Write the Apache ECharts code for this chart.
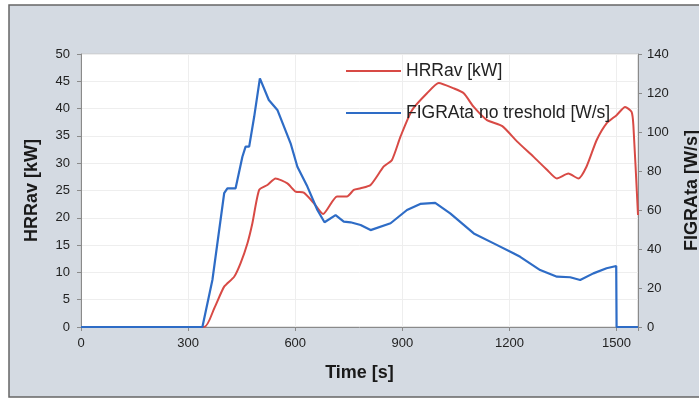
<!DOCTYPE html>
<html>
<head>
<meta charset="utf-8">
<script src="https://cdn.jsdelivr.net/npm/echarts@6/dist/echarts.min.js"></script>
<style>
  html, body { margin: 0; padding: 0; background: #fff; }
  #chart { width: 699px; height: 400px; }
</style>
</head>
<body>
<div id="chart"></div>
<script>
// HRRav [kW], left axis
const hrrTime = [0, 345, 373, 401, 429, 447, 466, 480, 499, 522, 545, 578, 601, 624, 652, 678, 717, 745, 764, 783, 811, 848, 871, 895, 927, 969, 1002, 1044, 1072, 1100, 1137, 1180, 1221, 1267, 1305, 1333, 1365, 1393, 1416, 1444, 1472, 1500, 1524, 1542, 1547, 1560];
const hrrValue = [0, 0, 3.4, 7.4, 9.2, 11.7, 15.3, 19, 25.1, 26, 27.2, 26.3, 24.8, 24.6, 22.7, 20.7, 23.9, 23.9, 25.1, 25.4, 26, 29.4, 30.6, 34.9, 39.7, 42.8, 44.7, 43.7, 42.8, 40.3, 37.9, 36.8, 34, 31.2, 28.8, 27.2, 28.1, 27.2, 29.4, 34.2, 37.3, 38.8, 40.3, 39.4, 37, 20.5];

// FIGRAta no treshold [W/s], right axis
const figraTime = [0, 340, 368, 401, 410, 433, 452, 461, 471, 485, 501, 526, 550, 587, 606, 634, 662, 682, 713, 736, 755, 783, 811, 867, 913, 950, 992, 1034, 1100, 1160, 1211, 1230, 1286, 1333, 1370, 1398, 1435, 1472, 1499, 1500, 1560];
const figraValue = [0, 0, 24.1, 68.6, 71.1, 71.1, 87.3, 92.5, 92.5, 107.8, 127.5, 116.4, 111.3, 94.2, 82.2, 72, 60, 53.7, 57.4, 54, 53.7, 52.3, 49.7, 53.2, 60, 63.1, 63.7, 58.3, 48, 42.5, 37.8, 36, 29.2, 25.8, 25.5, 24.1, 27.5, 30.1, 31.3, 0, 0];

const xTicks = [0, 300, 600, 900, 1200, 1500];

const chart = echarts.init(document.getElementById('chart'));

const labelStyle = { color: '#222', fontSize: 13, fontFamily: 'Liberation Sans, Arial, sans-serif' };
const nameStyle = { color: '#1a1a1a', fontSize: 18, fontWeight: 'bold', fontFamily: 'Liberation Sans, Arial, sans-serif' };

let option = {
  backgroundColor: '#ffffff',
  animation: false,
  graphic: [
    {
      type: 'rect',
      z: -10,
      shape: { x: 9, y: 5, width: 700, height: 392 },
      style: { fill: '#d4dae2', stroke: '#666', lineWidth: 1.5 }
    }
  ],
  grid: {
    left: 81, top: 54, right: 61, bottom: 73,
    outerBoundsMode: 'none',
    containLabel: false,
    show: true,
    backgroundColor: '#ffffff',
    borderColor: '#c8c8c8',
    borderWidth: 1
  },
  legend: {
    orient: 'vertical',
    left: 341, top: 57,
    icon: 'rect',
    itemWidth: 55, itemHeight: 2,
    itemGap: 24,
    textStyle: { color: '#222', fontSize: 17.5, fontFamily: 'Liberation Sans, Arial, sans-serif' },
    data: ['HRRav [kW]', 'FIGRAta no treshold [W/s]']
  },
  xAxis: {
    type: 'value',
    min: 0, max: 1560, interval: 300,
    name: 'Time [s]',
    nameLocation: 'middle',
    nameGap: 37,
    nameTextStyle: nameStyle,
    axisLine: { lineStyle: { color: '#8a8a8a' } },
    axisTick: { show: true, length: 4, lineStyle: { color: '#8a8a8a' } },
    axisLabel: Object.assign({
      margin: 10,
      formatter: v => xTicks.includes(v) ? String(v) : ''
    }, labelStyle),
    splitLine: { show: true, lineStyle: { color: '#eeeeee' } }
  },
  yAxis: [
    {
      type: 'value',
      min: 0, max: 50, interval: 5,
      name: 'HRRav [kW]',
      nameLocation: 'middle',
      nameRotate: 90,
      nameGap: 40,
      nameTextStyle: nameStyle,
      axisLine: { show: true, lineStyle: { color: '#8a8a8a' } },
      axisTick: { show: true, length: 4, lineStyle: { color: '#8a8a8a' } },
      axisLabel: Object.assign({ margin: 11 }, labelStyle),
      splitLine: { show: true, lineStyle: { color: '#eeeeee' } }
    },
    {
      type: 'value',
      min: 0, max: 140, interval: 20,
      name: 'FIGRAta [W/s]',
      nameLocation: 'middle',
      nameRotate: 90,
      nameGap: 45,
      nameTextStyle: nameStyle,
      axisLine: { show: true, lineStyle: { color: '#8a8a8a' } },
      axisTick: { show: true, length: 4, lineStyle: { color: '#8a8a8a' } },
      axisLabel: Object.assign({ margin: 9 }, labelStyle),
      splitLine: { show: false }
    }
  ],
  series: [
    {
      name: 'HRRav [kW]',
      type: 'line',
      yAxisIndex: 0,
      showSymbol: false,
      smooth: 0.2,
      color: '#d84a45',
      lineStyle: { width: 2, color: '#d84a45' },
      data: hrrTime.map((t, i) => [t, hrrValue[i]]),
      z: 2
    },
    {
      name: 'FIGRAta no treshold [W/s]',
      type: 'line',
      yAxisIndex: 1,
      showSymbol: false,
      color: '#2e6cc6',
      lineStyle: { width: 2.2, color: '#2e6cc6' },
      data: figraTime.map((t, i) => [t, figraValue[i]]),
      z: 3
    }
  ]
};

chart.setOption(option);
</script>
</body>
</html>
